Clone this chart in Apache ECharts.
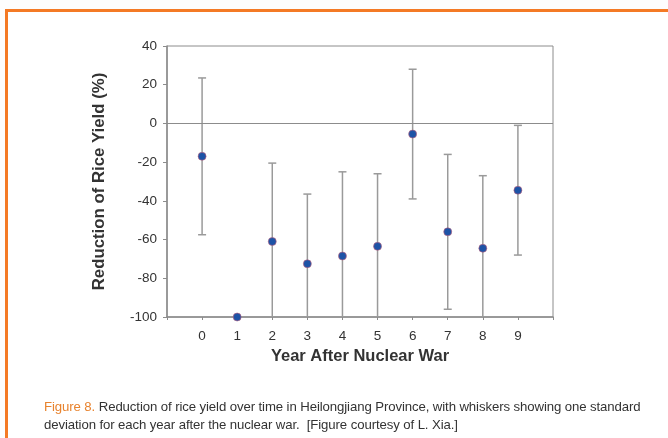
<!DOCTYPE html>
<html>
<head>
<meta charset="utf-8">
<script src="https://cdn.jsdelivr.net/npm/echarts@6/dist/echarts.min.js"></script>
<style>
  html, body { margin: 0; padding: 0; background: #fdfdfd; }
  #frame {
    position: absolute; left: 5px; top: 9px; width: 700px; height: 460px;
    border-top: 3px solid #f47a25; border-left: 3px solid #f47a25;
    background: #fff;
  }
  #chart { position: absolute; left: 0; top: 0; width: 668px; height: 438px; }
  #caption {
    position: absolute; left: 44px; top: 398px; width: 612px;
    font-family: "Liberation Sans", Arial, sans-serif; font-size: 13.2px;
    line-height: 18px; color: #333; letter-spacing: -0.1px;
  }
  #caption b { color: #e8832e; font-weight: normal; }
</style>
</head>
<body>
<div id="frame"></div>
<div id="chart"></div>
<div id="caption"><b>Figure 8.</b> Reduction of rice yield over time in Heilongjiang Province, with whiskers showing one standard deviation for each year after the nuclear war.&nbsp; [Figure courtesy of L. Xia.]</div>
<script>
// year after the war, mean reduction (%), one standard deviation
const years = [0, 1, 2, 3, 4, 5, 6, 7, 8, 9];
const meanReduction = [-17, -100, -61, -72.5, -68.5, -63.5, -5.5, -56, -64.5, -34.5];
const stdDev = [40.5, 0, 40.5, 36, 43.5, 37.5, 33.5, 40, 37.5, 33.5];
const yTicks = [-100, -80, -60, -40, -20, 0, 20, 40];

const chart = echarts.init(document.getElementById('chart'));

const points = years.map((y, i) => [y, meanReduction[i]]);
const whiskers = years.map((y, i) => [y, meanReduction[i] - stdDev[i], meanReduction[i] + stdDev[i]]);

const font = '"Liberation Sans", Arial, sans-serif';
const axisGray = '#8c8c8c';

chart.setOption({
  animation: false,
  grid: {
    left: 167, right: 115, top: 46, bottom: 121,
    show: true, borderColor: axisGray, borderWidth: 1, backgroundColor: 'transparent'
  },
  xAxis: {
    type: 'value',
    min: -1, max: 10, interval: 1,
    name: 'Year After Nuclear War',
    nameLocation: 'middle',
    nameGap: 28,
    nameTextStyle: { fontFamily: font, fontSize: 16.5, fontWeight: 'bold', color: '#333' },
    axisLine: { onZero: false, lineStyle: { color: axisGray, width: 1.5 } },
    axisTick: { length: 3, lineStyle: { color: axisGray } },
    axisLabel: {
      margin: 12, fontFamily: font, fontSize: 13.5, color: '#333',
      formatter: v => (years.indexOf(v) >= 0 ? String(v) : '')
    },
    splitLine: { show: false }
  },
  yAxis: {
    type: 'value',
    min: yTicks[0], max: yTicks[yTicks.length - 1], interval: 20,
    name: 'Reduction of Rice Yield (%)',
    nameLocation: 'middle',
    nameGap: 59,
    nameTextStyle: { fontFamily: font, fontSize: 16.8, fontWeight: 'bold', color: '#333' },
    axisLine: { show: true, onZero: false, lineStyle: { color: axisGray, width: 1.5 } },
    axisTick: { show: true, length: 4, lineStyle: { color: axisGray } },
    axisLabel: { margin: 10, fontFamily: font, fontSize: 13.5, color: '#333' },
    splitLine: { show: false }
  },
  series: [
    {
      type: 'custom',
      clip: true,
      data: whiskers,
      renderItem: (params, api) => {
        const x = api.value(0);
        const lo = api.coord([x, api.value(1)]);
        const hi = api.coord([x, api.value(2)]);
        const cap = 4;
        const style = { stroke: '#9a9a9a', lineWidth: 1.5 };
        return {
          type: 'group',
          children: [
            { type: 'line', shape: { x1: lo[0], y1: lo[1], x2: hi[0], y2: hi[1] }, style },
            { type: 'line', shape: { x1: hi[0] - cap, y1: hi[1], x2: hi[0] + cap, y2: hi[1] }, style },
            { type: 'line', shape: { x1: lo[0] - cap, y1: lo[1], x2: lo[0] + cap, y2: lo[1] }, style }
          ]
        };
      },
      z: 2
    },
    {
      type: 'scatter',
      data: points,
      symbolSize: 8,
      itemStyle: { color: '#1d53a6', borderColor: '#c0607a', borderWidth: 0.6, opacity: 1 },
      markLine: {
        silent: true,
        symbol: 'none',
        label: { show: false },
        lineStyle: { color: axisGray, width: 1, type: 'solid' },
        data: [{ yAxis: 0 }]
      },
      z: 3
    }
  ]
});
</script>
</body>
</html>
